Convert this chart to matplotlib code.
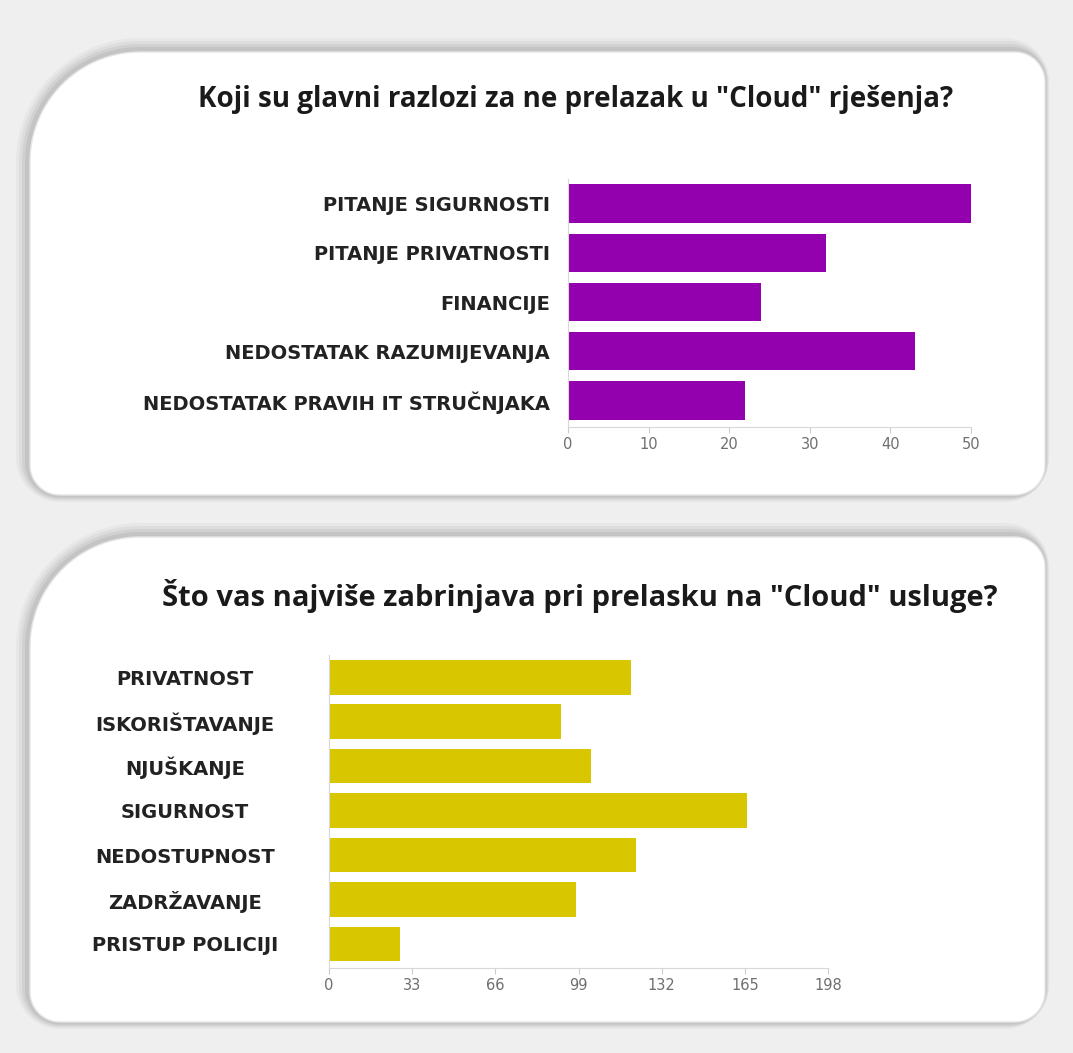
import numpy as np
import matplotlib
matplotlib.use("Agg")
import matplotlib.pyplot as plt
from matplotlib.path import Path
from matplotlib.patches import PathPatch

# podaci - gornji graf
razlozi = ["PITANJE SIGURNOSTI", "PITANJE PRIVATNOSTI", "FINANCIJE",
           "NEDOSTATAK RAZUMIJEVANJA", "NEDOSTATAK PRAVIH IT STRUČNJAKA"]
razlozi_vrijednosti = [50, 32, 24, 43, 22]
razlozi_ticks = [0, 10, 20, 30, 40, 50]

# podaci - donji graf
brige = ["PRIVATNOST", "ISKORIŠTAVANJE", "NJUŠKANJE", "SIGURNOST",
         "NEDOSTUPNOST", "ZADRŽAVANJE", "PRISTUP POLICIJI"]
brige_vrijednosti = [120, 92, 104, 166, 122, 98, 28]
brige_ticks = [0, 33, 66, 99, 132, 165, 198]

naslov_1 = 'Koji su glavni razlozi za ne prelazak u "Cloud" rješenja?'
naslov_2 = 'Što vas najviše zabrinjava pri prelasku na "Cloud" usluge?'

W, H = 1073, 1053
ljubicasta = "#9300ad"
zuta = "#d8c700"


def okvir(x0, y0, x1, y1, r_tl, r_other, n=30):
    # pravokutnik sa zaobljenim kutevima, u pikselima (y prema dolje)
    pts = []
    def luk(cx, cy, r, a0, a1):
        for a in np.linspace(a0, a1, n):
            pts.append((cx + r * np.cos(a), cy + r * np.sin(a)))
    luk(x0 + r_tl, y0 + r_tl, r_tl, np.pi, 1.5 * np.pi)
    luk(x1 - r_other, y0 + r_other, r_other, 1.5 * np.pi, 2 * np.pi)
    luk(x1 - r_other, y1 - r_other, r_other, 0, 0.5 * np.pi)
    luk(x0 + r_other, y1 - r_other, r_other, 0.5 * np.pi, np.pi)
    pts = np.array(pts)
    pts[:, 0] = pts[:, 0] / W
    pts[:, 1] = 1 - pts[:, 1] / H
    return Path(np.vstack([pts, pts[:1]]), closed=True)


def panel(fig, x0, y0, x1, y1):
    # sjena
    for i, a in enumerate([0.03, 0.04, 0.05, 0.06]):
        d = 14 - i * 3
        fig.patches.append(PathPatch(okvir(x0 - d, y0 - d, x1 + d * 0.3, y1 + d * 0.5, 110 + d, 30 + d),
                                     transform=fig.transFigure, facecolor="#000000",
                                     edgecolor="none", alpha=a, zorder=0))
    fig.patches.append(PathPatch(okvir(x0, y0, x1, y1, 110, 30),
                                 transform=fig.transFigure, facecolor="white",
                                 edgecolor="#e6e6e6", lw=1, zorder=1))


def crtaj(ax, kategorije, vrijednosti, ticks, boja, ylim_dno):
    y = np.arange(len(kategorije))
    ax.barh(y, vrijednosti, height=0.78, color=boja, zorder=2)
    ax.set_ylim(ylim_dno, -0.5)
    ax.set_xlim(ticks[0], ticks[-1])
    ax.set_xticks(ticks)
    ax.set_xticklabels([str(t) for t in ticks], fontsize=10.5)
    ax.set_yticks(y)
    for s in ["top", "right"]:
        ax.spines[s].set_visible(False)
    for s in ["left", "bottom"]:
        ax.spines[s].set_color("#d8d8d8")
    ax.tick_params(axis="x", colors="#cccccc", length=4, labelcolor="#6f6f6f")
    ax.tick_params(axis="y", length=0)
    ax.set_facecolor("none")


fig = plt.figure(figsize=(W / 100, H / 100), dpi=100, facecolor="#efefef")

panel(fig, 30, 52, 1045, 495)
panel(fig, 30, 537, 1045, 1022)

# gornji graf
ax1 = fig.add_axes([568 / W, 1 - 427 / H, (971 - 568) / W, (427 - 179) / H], zorder=5)
crtaj(ax1, razlozi, razlozi_vrijednosti, razlozi_ticks, ljubicasta, 4.54)
ax1.set_yticklabels(razlozi, fontsize=14, fontweight="bold", color="#222222")
ax1.tick_params(axis="y", pad=13)
fig.text(576 / W, 1 - 100 / H, naslov_1, ha="center", va="center", zorder=6,
         fontsize=20, fontweight="bold", family="Open Sans", color="#1a1a1a")

# donji graf
ax2 = fig.add_axes([329 / W, 1 - 968 / H, (828 - 329) / W, (968 - 655) / H], zorder=5)
crtaj(ax2, brige, brige_vrijednosti, brige_ticks, zuta, 6.54)
ax2.set_yticklabels(brige, fontsize=14, fontweight="bold", color="#222222", ha="center")
ax2.tick_params(axis="y", pad=(329 - 185) * 0.72)
fig.text(580 / W, 1 - 596 / H, naslov_2, ha="center", va="center", zorder=6,
         fontsize=21, fontweight="bold", family="Open Sans", color="#1a1a1a")

fig.savefig("out.png", dpi=100, facecolor=fig.get_facecolor())
